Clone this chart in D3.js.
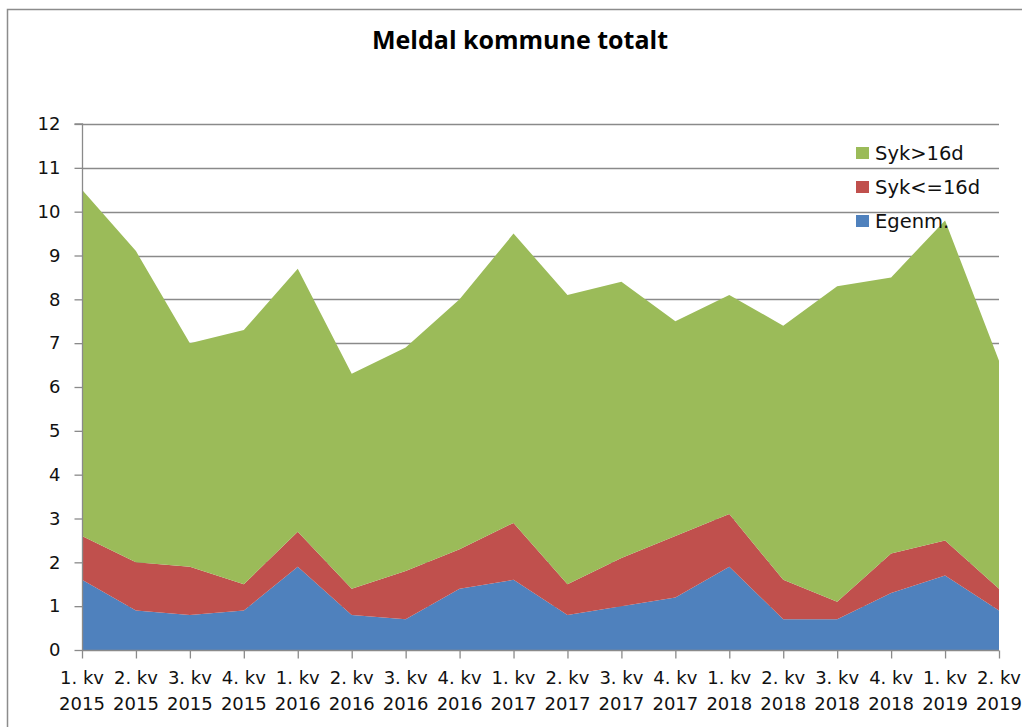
<!DOCTYPE html>
<html><head><meta charset="utf-8">
<script src="https://cdn.jsdelivr.net/npm/d3@7"></script>
<style>body{margin:0;background:#fff}svg{display:block}</style>
</head><body>
<svg id="c" width="1022" height="727"></svg>
<script>
const quarters = ["1. kv","2. kv","3. kv","4. kv","1. kv","2. kv","3. kv","4. kv","1. kv","2. kv","3. kv","4. kv","1. kv","2. kv","3. kv","4. kv","1. kv","2. kv"];
const years = ["2015","2015","2015","2015","2016","2016","2016","2016","2017","2017","2017","2017","2018","2018","2018","2018","2019","2019"];
const egenm = [1.6,0.9,0.8,0.9,1.9,0.8,0.7,1.4,1.6,0.8,1.0,1.2,1.9,0.7,0.7,1.3,1.7,0.9];
const sykKort = [1.0,1.1,1.1,0.6,0.8,0.6,1.1,0.9,1.3,0.7,1.1,1.4,1.2,0.9,0.4,0.9,0.8,0.5];
const sykLang = [7.9,7.1,5.1,5.8,6.0,4.9,5.1,5.7,6.6,6.6,6.3,4.9,5.0,5.8,7.2,6.3,7.3,5.2];
const yTicks = [0,1,2,3,4,5,6,7,8,9,10,11,12];
const seriesNames = ["Egenm.","Syk<=16d","Syk>16d"];
const colors = ["#4F81BD","#C0504D","#9BBB59"];

const rows = quarters.map((q,i)=>({i, "Egenm.":egenm[i], "Syk<=16d":sykKort[i], "Syk>16d":sykLang[i]}));
const stack = d3.stack().keys(seriesNames)(rows);

const svg = d3.select("#c");
const L=82, R=999, T=124, B=650;
const x = d3.scaleLinear().domain([0, quarters.length-1]).range([L,R]);
const y = d3.scaleLinear().domain([0,12]).range([B,T]);
const FONT = "'DejaVu Sans', Verdana, sans-serif";

// frame
svg.append("rect").attr("x",7.5).attr("y",9.5).attr("width",1030).attr("height",740)
  .attr("fill","none").attr("stroke","#8c8c8c").attr("stroke-width",1.5);

// title
svg.append("text").attr("x",520).attr("y",49).attr("text-anchor","middle")
  .attr("font-family","'Open Sans', sans-serif").attr("font-weight","bold")
  .attr("font-size",25).attr("fill","#000").text("Meldal kommune totalt");

// gridlines
svg.append("g").selectAll("line").data(yTicks.filter(d=>d>0)).join("line")
  .attr("x1",L).attr("x2",R).attr("y1",d=>Math.round(y(d))+0.5).attr("y2",d=>Math.round(y(d))+0.5)
  .attr("stroke","#8a8a8a").attr("stroke-width",1.3);

// areas
const area = d3.area().x((d,i)=>x(i)).y0(d=>y(d[0])).y1(d=>y(d[1]));
svg.append("g").selectAll("path").data(stack).join("path")
  .attr("d",area).attr("fill",(d,i)=>colors[i]);

// y axis
const yAxis = d3.axisLeft(y).tickValues(yTicks).tickSize(8).tickPadding(14);
const gy = svg.append("g").attr("transform",`translate(${L+0.5},0)`).call(yAxis);
gy.selectAll("path,line").attr("stroke","#8a8a8a").attr("stroke-width",1.3);
gy.select(".domain").attr("d",`M-8,${T}H0V${B}`);
gy.selectAll("text").attr("font-family",FONT).attr("font-size",18).attr("fill","#111");

// x axis
const xAxis = d3.axisBottom(x).tickValues(d3.range(quarters.length)).tickSize(8).tickFormat("");
const gx = svg.append("g").attr("transform",`translate(0,${B+0.5})`).call(xAxis);
gx.selectAll("path,line").attr("stroke","#8a8a8a").attr("stroke-width",1.3);
gx.select(".domain").attr("d",`M${L},0H${R}`);
const lab = svg.append("g").attr("font-family",FONT).attr("font-size",18).attr("fill","#111").attr("text-anchor","middle");
lab.selectAll("text.q").data(quarters).join("text").attr("class","q")
  .attr("x",(d,i)=>x(i)).attr("y",684).text(d=>d);
lab.selectAll("text.yr").data(years).join("text").attr("class","yr")
  .attr("x",(d,i)=>x(i)).attr("y",710).text(d=>d);

// legend
const legendOrder = [2,1,0];
const lg = svg.append("g");
legendOrder.forEach((si,k)=>{
  const yy = 153 + k*34;
  lg.append("rect").attr("x",856).attr("y",yy-6).attr("width",13).attr("height",12).attr("fill",colors[si]);
  lg.append("text").attr("x",875).attr("y",yy+6.5).attr("font-family",FONT)
    .attr("font-size",19.5).attr("fill","#111").text(seriesNames[si]);
});
</script>
</body></html>
